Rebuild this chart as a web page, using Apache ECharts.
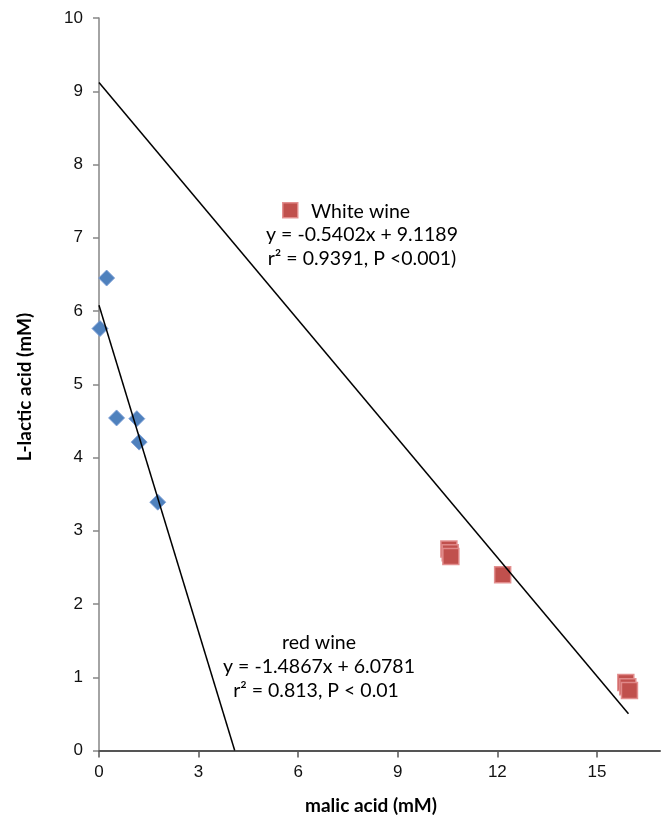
<!DOCTYPE html>
<html>
<head>
<meta charset="utf-8">
<script src="https://cdn.jsdelivr.net/npm/echarts@6/dist/echarts.min.js"></script>
<style>
html,body{margin:0;padding:0;background:#fff;}
#chart{width:663px;height:823px;}
</style>
</head>
<body>
<div id="chart"></div>
<script>
// Red wine samples (malic acid mM, L-lactic acid mM)
const redX = [0.23, 0.03, 0.53, 1.14, 1.21, 1.77];
const redY = [6.45, 5.76, 4.54, 4.53, 4.21, 3.39];
// White wine samples
const whiteX = [10.54, 10.58, 10.60, 12.16, 15.87, 15.93, 15.98];
const whiteY = [2.75, 2.70, 2.65, 2.40, 0.93, 0.87, 0.82];
// Trend lines (from the printed equations)
const redSlope = -1.4867, redIntercept = 6.0781;
const whiteSlope = -0.5402, whiteIntercept = 9.1189;
const redTrendX = [0, 4.088];
const whiteTrendX = [0, 15.95];
// Axis ticks
const xTicks = [0, 3, 6, 9, 12, 15];
const yTicks = [0, 1, 2, 3, 4, 5, 6, 7, 8, 9, 10];

const zip = (xs, ys) => xs.map((x, i) => [x, ys[i]]);
const trend = (xs, m, b) => xs.map(x => [x, m * x + b]);

const chart = echarts.init(document.getElementById('chart'), null, {renderer: 'canvas'});
const textFont = 'Lato, "Open Sans", sans-serif';
const tickFont = '"Liberation Sans", Arial, sans-serif';

chart.setOption({
  animation: false,
  backgroundColor: '#ffffff',
  grid: {left: 99, right: 3, top: 18, bottom: 72.5, containLabel: false},
  xAxis: {
    type: 'value', min: 0, max: 16.9, interval: 3,
    splitLine: {show: false},
    axisLine: {show: true, onZero: false, lineStyle: {color: '#555555', width: 2}},
    axisTick: {show: true, inside: false, length: 7, customValues: xTicks, lineStyle: {color: '#555555', width: 1.5}},
    axisLabel: {customValues: xTicks, margin: 13, fontSize: 17, color: '#111', fontFamily: tickFont}
  },
  yAxis: {
    type: 'value', min: 0, max: 10, interval: 1,
    splitLine: {show: false},
    axisLine: {show: true, onZero: false, lineStyle: {color: '#868686', width: 1.5}},
    axisTick: {show: true, inside: false, length: 6, customValues: yTicks, lineStyle: {color: '#868686', width: 1.5}},
    axisLabel: {customValues: yTicks, margin: 16, fontSize: 17, color: '#111', fontFamily: tickFont}
  },
  series: [
    {
      name: 'red trend', type: 'line', data: trend(redTrendX, redSlope, redIntercept),
      symbol: 'none', lineStyle: {color: '#000', width: 1.5}, z: 3, silent: true
    },
    {
      name: 'white trend', type: 'line', data: trend(whiteTrendX, whiteSlope, whiteIntercept),
      symbol: 'none', lineStyle: {color: '#000', width: 1.5}, z: 3, silent: true
    },
    {
      name: 'red wine', type: 'scatter', data: zip(redX, redY),
      symbol: 'diamond', symbolSize: [16, 16],
      itemStyle: {color: '#4F81BD', borderColor: 'rgba(125,160,215,0.9)', borderWidth: 1, opacity: 1},
      z: 2
    },
    {
      name: 'White wine', type: 'scatter', data: zip(whiteX, whiteY),
      symbol: 'rect', symbolSize: 16,
      itemStyle: {color: '#C0504D', borderColor: 'rgba(225,140,140,0.95)', borderWidth: 1.5, opacity: 1},
      z: 2
    }
  ],
  graphic: [
    {type: 'rect', left: 282, top: 202, shape: {width: 15, height: 15},
     style: {fill: '#C0504D', stroke: 'rgba(225,140,140,0.95)', lineWidth: 1.5}},
    {type: 'text', x: 311, y: 211.5, style: {text: 'White wine', font: '19.5px ' + textFont, fill: '#000', textVerticalAlign: 'middle', textAlign: 'left'}},
    {type: 'text', x: 362, y: 235, style: {text: 'y = -0.5402x + 9.1189', font: '19.5px ' + textFont, fill: '#000', textVerticalAlign: 'middle', textAlign: 'center'}},
    {type: 'text', x: 362, y: 259, style: {text: 'r² = 0.9391, P <0.001)', font: '19.5px ' + textFont, fill: '#000', textVerticalAlign: 'middle', textAlign: 'center'}},
    {type: 'text', x: 319, y: 643, style: {text: 'red wine', font: '19.5px ' + textFont, fill: '#000', textVerticalAlign: 'middle', textAlign: 'center'}},
    {type: 'text', x: 319, y: 667, style: {text: 'y = -1.4867x + 6.0781', font: '19.5px ' + textFont, fill: '#000', textVerticalAlign: 'middle', textAlign: 'center'}},
    {type: 'text', x: 316, y: 691, style: {text: 'r² = 0.813, P < 0.01', font: '19.5px ' + textFont, fill: '#000', textVerticalAlign: 'middle', textAlign: 'center'}},
    {type: 'text', x: 371, y: 806, style: {text: 'malic acid (mM)', font: 'bold 19px ' + textFont, fill: '#000', textVerticalAlign: 'middle', textAlign: 'center'}},
    {type: 'text', x: 25, y: 387, rotation: Math.PI / 2, style: {text: 'L-lactic acid (mM)', font: 'bold 19px ' + textFont, fill: '#000', textVerticalAlign: 'middle', textAlign: 'center'}}
  ]
});
</script>
</body>
</html>
